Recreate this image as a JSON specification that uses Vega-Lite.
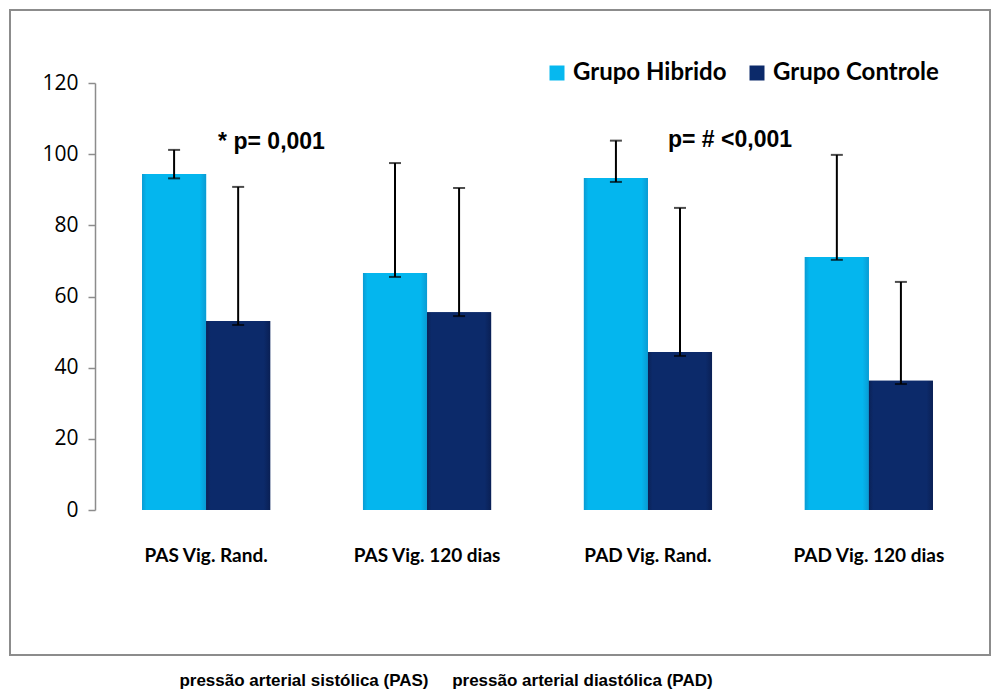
{
  "$schema": "https://vega.github.io/schema/vega-lite/v6.json",
  "width": 980,
  "height": 645,
  "autosize": "none",
  "padding": {"left": 10, "top": 10, "right": 4, "bottom": 44},
  "background": "white",
  "config": {"view": {"stroke": "#8c8c8c", "strokeWidth": 2}},
  "title": {
    "text": "pressão arterial sistólica (PAS)\u00a0\u00a0\u00a0\u00a0\u00a0pressão arterial diastólica (PAD)",
    "orient": "bottom",
    "anchor": "middle",
    "font": "Liberation Sans",
    "fontSize": 17,
    "fontWeight": "bold",
    "color": "#000000",
    "offset": 18,
    "dx": -54
  },
  "datasets": {
    "bars": [
      {"cat": "PAS Vig. Rand.", "grupo": "Grupo Hibrido", "media": 94.4, "low": 93.2, "high": 101.2},
      {"cat": "PAS Vig. Rand.", "grupo": "Grupo Controle", "media": 53.1, "low": 52.0, "high": 90.8},
      {"cat": "PAS Vig. 120 dias", "grupo": "Grupo Hibrido", "media": 66.6, "low": 65.5, "high": 97.5},
      {"cat": "PAS Vig. 120 dias", "grupo": "Grupo Controle", "media": 55.6, "low": 54.5, "high": 90.5},
      {"cat": "PAD Vig. Rand.", "grupo": "Grupo Hibrido", "media": 93.3, "low": 92.2, "high": 103.8},
      {"cat": "PAD Vig. Rand.", "grupo": "Grupo Controle", "media": 44.4, "low": 43.3, "high": 84.9},
      {"cat": "PAD Vig. 120 dias", "grupo": "Grupo Hibrido", "media": 71.1, "low": 70.3, "high": 99.8},
      {"cat": "PAD Vig. 120 dias", "grupo": "Grupo Controle", "media": 36.3, "low": 35.4, "high": 64.1}
    ],
    "notes": [
      {"cat": "PAS Vig. Rand.", "y": 103.4, "label": "* p= 0,001"},
      {"cat": "PAD Vig. Rand.", "y": 103.9, "label": "p= # <0,001"}
    ]
  },
  "layer": [
    {
      "data": {"name": "bars"},
      "mark": {"type": "bar", "stroke": null},
      "encoding": {
        "x": {
          "field": "cat", "type": "nominal",
          "sort": ["PAS Vig. Rand.", "PAS Vig. 120 dias", "PAD Vig. Rand.", "PAD Vig. 120 dias"],
          "scale": {"type": "band", "domain": ["PAS Vig. Rand.", "PAS Vig. 120 dias", "PAD Vig. Rand.", "PAD Vig. 120 dias"], "range": [85, 970], "paddingInner": 0.42, "paddingOuter": 0.213},
          "axis": {"orient": "bottom", "offset": -145, "domain": false, "ticks": false, "labelAngle": 0, "labelFont": "Lato", "labelFontWeight": "bold", "labelFontSize": 19, "labelColor": "#000000", "labelPadding": 36, "title": null}
        },
        "xOffset": {
          "field": "grupo", "type": "nominal",
          "scale": {"domain": ["Grupo Hibrido", "Grupo Controle"], "paddingInner": 0, "paddingOuter": 0}
        },
        "y": {
          "field": "media", "type": "quantitative",
          "scale": {"domain": [0, 120], "range": [500, 73], "nice": false, "zero": true},
          "axis": {"values": [0, 20, 40, 60, 80, 100, 120], "offset": -85, "grid": false, "domainColor": "#8c8c8c", "domainWidth": 1.5, "tickColor": "#8c8c8c", "tickWidth": 1.5, "tickSize": 7, "labelFont": "Open Sans", "labelFontSize": 21, "labelColor": "#000000", "labelPadding": 10, "title": null}
        },
        "color": {
          "field": "grupo", "type": "nominal",
          "scale": {"domain": ["Grupo Hibrido", "Grupo Controle"], "range": ["#06B8EF", "#0C2A6A"]},
          "legend": {"orient": "none", "legendX": 535, "legendY": 51, "direction": "horizontal", "title": null, "symbolType": "square", "symbolSize": 225, "symbolStrokeWidth": 0, "labelFont": "Lato", "labelFontSize": 24, "labelFontWeight": "bold", "labelColor": "#000000", "labelLimit": 300, "labelOffset": 4, "columnPadding": 18}
        }
      }
    },
    {
      "data": {"name": "bars"},
      "transform": [{"filter": "datum.grupo === 'Grupo Hibrido'"}],
      "mark": {"type": "bar", "stroke": null, "fill": {"gradient": "linear", "x1": 0, "x2": 1, "y1": 0, "y2": 0, "stops": [{"offset": 0, "color": "#0a9bd3"}, {"offset": 0.07, "color": "#04b6ee"}, {"offset": 0.9, "color": "#04b6ee"}, {"offset": 1, "color": "#0a9bd3"}]}},
      "encoding": {
        "x": {"field": "cat", "type": "nominal"},
        "xOffset": {"field": "grupo", "type": "nominal"},
        "y": {"field": "media", "type": "quantitative"}
      }
    },
    {
      "data": {"name": "bars"},
      "transform": [{"filter": "datum.grupo === 'Grupo Controle'"}],
      "mark": {"type": "bar", "stroke": null, "fill": {"gradient": "linear", "x1": 0, "x2": 1, "y1": 0, "y2": 0, "stops": [{"offset": 0, "color": "#0b2257"}, {"offset": 0.07, "color": "#0c2a6a"}, {"offset": 0.9, "color": "#0c2a6a"}, {"offset": 1, "color": "#0a2055"}]}},
      "encoding": {
        "x": {"field": "cat", "type": "nominal"},
        "xOffset": {"field": "grupo", "type": "nominal"},
        "y": {"field": "media", "type": "quantitative"}
      }
    },
    {
      "data": {"name": "bars"},
      "mark": {"type": "rule", "color": "#000000", "strokeWidth": 2},
      "encoding": {
        "x": {"field": "cat", "type": "nominal"},
        "xOffset": {"field": "grupo", "type": "nominal"},
        "y": {"field": "low", "type": "quantitative"},
        "y2": {"field": "high"}
      }
    },
    {
      "data": {"name": "bars"},
      "mark": {"type": "tick", "orient": "horizontal", "color": "#000000", "size": 12, "thickness": 2},
      "encoding": {
        "x": {"field": "cat", "type": "nominal"},
        "xOffset": {"field": "grupo", "type": "nominal"},
        "y": {"field": "low", "type": "quantitative"}
      }
    },
    {
      "data": {"name": "bars"},
      "mark": {"type": "tick", "orient": "horizontal", "color": "#000000", "size": 12, "thickness": 2},
      "encoding": {
        "x": {"field": "cat", "type": "nominal"},
        "xOffset": {"field": "grupo", "type": "nominal"},
        "y": {"field": "high", "type": "quantitative"}
      }
    },
    {
      "data": {"name": "notes"},
      "transform": [{"filter": "datum.cat === 'PAS Vig. Rand.'"}],
      "mark": {"type": "text", "align": "left", "baseline": "middle", "dx": 12, "font": "Liberation Sans", "fontSize": 23, "fontWeight": "bold", "color": "#000000"},
      "encoding": {
        "x": {"field": "cat", "type": "nominal"},
        "y": {"field": "y", "type": "quantitative"},
        "text": {"field": "label"}
      }
    },
    {
      "data": {"name": "notes"},
      "transform": [{"filter": "datum.cat === 'PAD Vig. Rand.'"}],
      "mark": {"type": "text", "align": "left", "baseline": "middle", "dx": 20, "font": "Liberation Sans", "fontSize": 23, "fontWeight": "bold", "color": "#000000"},
      "encoding": {
        "x": {"field": "cat", "type": "nominal"},
        "y": {"field": "y", "type": "quantitative"},
        "text": {"field": "label"}
      }
    }
  ]
}
